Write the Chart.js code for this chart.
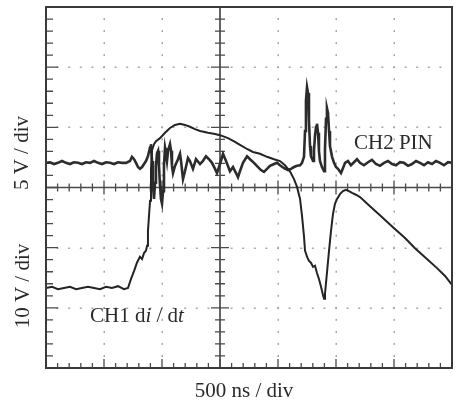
<!DOCTYPE html>
<html>
<head>
<meta charset="utf-8">
<script src="https://cdn.jsdelivr.net/npm/chart.js@4.4.1/dist/chart.umd.min.js"></script>
<style>
  html, body { margin: 0; padding: 0; background: #ffffff; }
  canvas { display: block; }
</style>
</head>
<body>
<canvas id="c" width="459" height="401"></canvas>
<script>
// ---- data (time in ns, 500 ns/div; amplitude in screen divisions) ----
const xTicksNs = [0, 500, 1000, 1500, 2000, 2500, 3000, 3500];
const yTicksDiv = [0, 1, 2, 3, 4, 5, 6];

const ch1Time = [0,52,103,155,207,259,310,362,414,466,517,569,621,672,707,
  733,759,784,810,828,845,862,871,879,888,897,905,914,931,948,983,
  1026,1069,1112,1155,1198,1241,1284,1328,1397,1457,1500,1569,1629,1672,1733,1784,1845,1905,1966,2017,2060,2103,2138,2164,2190,2207,2224,2233,
  2250,2267,2284,2302,2319,2336,2353,2371,2388,2397,2405,2422,2440,2457,2474,2491,2509,2534,2560,2586,2612,2638,2672,2707,2793,2879,2991,3095,3181,3284,3371,3440,3500];
const ch1Div = [1.33,1.35,1.31,1.33,1.35,1.31,1.33,1.35,1.33,1.31,1.35,1.33,1.36,1.31,1.33,
  1.48,1.61,1.75,1.85,1.81,1.91,1.95,2.03,2.28,2.53,2.78,3.30,3.62,3.72,3.77,3.82,
  3.91,3.99,4.04,4.06,4.04,4.01,3.97,3.94,3.91,3.89,3.87,3.82,3.76,3.71,3.64,3.59,3.56,3.51,3.47,3.44,3.37,3.27,3.14,3.01,2.81,2.53,2.19,1.95,
  1.85,1.78,1.75,1.68,1.70,1.58,1.48,1.35,1.21,1.15,1.23,1.58,1.95,2.28,2.56,2.73,2.81,2.89,2.94,2.96,2.94,2.91,2.88,2.84,2.69,2.54,2.34,2.16,1.99,1.81,1.66,1.53,1.38];

const ch2Time = [0,34,69,103,138,172,207,241,276,310,345,379,414,448,483,517,552,586,621,655,690,724,741,759,776,793,810,828,845,862,879,897,905,914,922,931,940,948,957,966,974,983,991,1000,1009,1017,1026,1034,1043,1052,1069,1078,1086,1095,1112,1138,1155,1164,1181,1198,1224,1241,1267,1293,1328,1353,1379,1405,1431,1457,1474,1500,1526,1552,1586,1612,1638,1655,1672,1698,1733,1759,1793,1828,1853,1879,1905,1931,1966,1991,2017,2052,2086,2112,2138,2164,2190,2207,2224,2233,2241,2250,2259,2267,2276,2284,2302,2310,2319,2328,2336,2345,2353,2362,2379,2397,2405,2414,2422,2431,2440,2448,2466,2483,2500,2517,2543,2560,2578,2603,2629,2655,2681,2707,2741,2776,2810,2845,2879,2914,2948,2983,3017,3052,3086,3121,3155,3190,3224,3259,3293,3328,3362,3397,3431,3466,3500];
const ch2Div = [3.41,3.42,3.39,3.41,3.44,3.41,3.39,3.42,3.41,3.39,3.42,3.41,3.44,3.41,3.39,3.42,3.41,3.39,3.42,3.41,3.41,3.44,3.51,3.47,3.41,3.34,3.31,3.34,3.39,3.44,3.52,3.67,3.72,3.44,3.03,2.81,3.08,3.36,3.57,3.61,3.36,3.03,2.81,2.73,2.94,3.36,3.66,3.57,3.44,3.61,3.72,3.61,3.36,3.24,3.36,3.47,3.56,3.44,3.14,3.27,3.49,3.44,3.31,3.47,3.39,3.44,3.52,3.47,3.41,3.31,3.24,3.39,3.56,3.44,3.27,3.34,3.24,3.17,3.27,3.41,3.52,3.47,3.41,3.34,3.29,3.26,3.31,3.36,3.39,3.41,3.37,3.32,3.29,3.31,3.34,3.36,3.37,3.41,3.51,3.94,4.44,4.67,4.57,4.11,3.69,3.52,3.44,3.61,3.86,4.01,4.06,3.91,3.61,3.44,3.34,3.27,3.64,4.14,4.32,4.24,3.94,3.69,3.51,3.41,3.34,3.31,3.24,3.32,3.41,3.44,3.37,3.42,3.47,3.41,3.37,3.42,3.46,3.39,3.36,3.41,3.44,3.39,3.37,3.42,3.41,3.36,3.39,3.44,3.41,3.37,3.42,3.39,3.44,3.41,3.37,3.42,3.41];

const labelCh1 = ["CH1 d", "i", " / d", "t"];
const labelCh2 = "CH2 PIN";
const xTitle = "500 ns / div";
const yTitleTop = "5 V / div";
const yTitleBottom = "10 V / div";

function pairs(xs, ys) {
  const n = Math.min(xs.length, ys.length);
  const out = [];
  for (let i = 0; i < n; i++) out.push({ x: xs[i], y: ys[i] });
  return out;
}

const scopePlugin = {
  id: 'scope',
  beforeDatasetsDraw(chart) {
    const { ctx, chartArea: a, scales: { x, y } } = chart;
    const cx = x.getPixelForValue(1500), cy = y.getPixelForValue(3);
    ctx.save();
    // dotted grid
    ctx.fillStyle = '#a8a8a8';
    xTicksNs.forEach(t => {
      if (t === 0 || t === 1500 || t === 3500) return;
      const px = Math.round(x.getPixelForValue(t));
      for (let v = 0.2; v < 6; v += 0.2) {
        const py = y.getPixelForValue(v);
        ctx.fillRect(px - 0.5, py - 1, 1.5, 2);
      }
    });
    yTicksDiv.forEach(d => {
      if (d === 0 || d === 3 || d === 6) return;
      const py = Math.round(y.getPixelForValue(d));
      for (let t = 100; t < 3500; t += 100) {
        const px = x.getPixelForValue(t);
        ctx.fillRect(px - 1, py - 0.5, 2, 1.5);
      }
    });
    // centre axes
    ctx.strokeStyle = '#4a4a4a';
    ctx.lineWidth = 1.7;
    ctx.beginPath();
    ctx.moveTo(cx, a.top); ctx.lineTo(cx, a.bottom);
    ctx.moveTo(a.left, cy); ctx.lineTo(a.right, cy);
    ctx.stroke();
    ctx.lineWidth = 1.3;
    ctx.beginPath();
    for (let k = 1; k < 30; k++) {
      const py = y.getPixelForValue(k * 0.2);
      const len = (k % 5 === 0) ? 9 : 5;
      ctx.moveTo(cx - len, py); ctx.lineTo(cx + len, py);
      const ll = (k % 5 === 0) ? 12 : 7;
      ctx.moveTo(a.left, py); ctx.lineTo(a.left + ll, py);
    }
    for (let k = 1; k < 35; k++) {
      const px = x.getPixelForValue(k * 100);
      const len = (k % 5 === 0) ? 7 : 4;
      ctx.moveTo(px, cy - len); ctx.lineTo(px, cy + len);
      const bl = (k % 5 === 0) ? 9 : 5;
      ctx.moveTo(px, a.bottom); ctx.lineTo(px, a.bottom - bl);
    }
    ctx.stroke();
    ctx.restore();
  },
  afterDraw(chart) {
    const { ctx, chartArea: a } = chart;
    ctx.save();
    ctx.strokeStyle = '#3a3a3a';
    ctx.lineWidth = 2;
    ctx.strokeRect(a.left, a.top, a.right - a.left, a.bottom - a.top);
    ctx.fillStyle = '#2a2a2a';
    const f = '21px "Liberation Serif", "DejaVu Serif", serif';
    const fi = 'italic 21px "Liberation Serif", "DejaVu Serif", serif';
    ctx.textBaseline = 'alphabetic';
    ctx.font = f;
    ctx.textAlign = 'left';
    ctx.fillText(labelCh2, 354, 149);
    let px = 90;
    labelCh1.forEach((s, i) => {
      ctx.font = (i % 2 === 1) ? fi : f;
      ctx.fillText(s, px, 322);
      px += ctx.measureText(s).width;
    });
    ctx.font = f;
    ctx.textAlign = 'center';
    ctx.fillText(xTitle, 244, 397);
    ctx.save();
    ctx.translate(28, 153); ctx.rotate(-Math.PI / 2);
    ctx.fillText(yTitleTop, 0, 0);
    ctx.restore();
    ctx.save();
    ctx.translate(29, 286); ctx.rotate(-Math.PI / 2);
    ctx.fillText(yTitleBottom, 0, 0);
    ctx.restore();
    ctx.restore();
  }
};

new Chart(document.getElementById('c'), {
  type: 'line',
  data: {
    datasets: [
      { label: 'CH1 di/dt', data: pairs(ch1Time, ch1Div), borderColor: '#242424', borderWidth: 2.0, pointRadius: 0, tension: 0 },
      { label: 'CH2 PIN', data: pairs(ch2Time, ch2Div), borderColor: '#2c2c2c', borderWidth: 2.6, pointRadius: 0, tension: 0 }
    ]
  },
  options: {
    responsive: false,
    animation: false,
    layout: { padding: { left: 46, right: 7, top: 7, bottom: 33 } },
    plugins: { legend: { display: false }, tooltip: { enabled: false } },
    scales: {
      x: { type: 'linear', min: 0, max: 3500, display: false },
      y: { type: 'linear', min: 0, max: 6, display: false }
    }
  },
  plugins: [scopePlugin]
});
</script>
</body>
</html>
